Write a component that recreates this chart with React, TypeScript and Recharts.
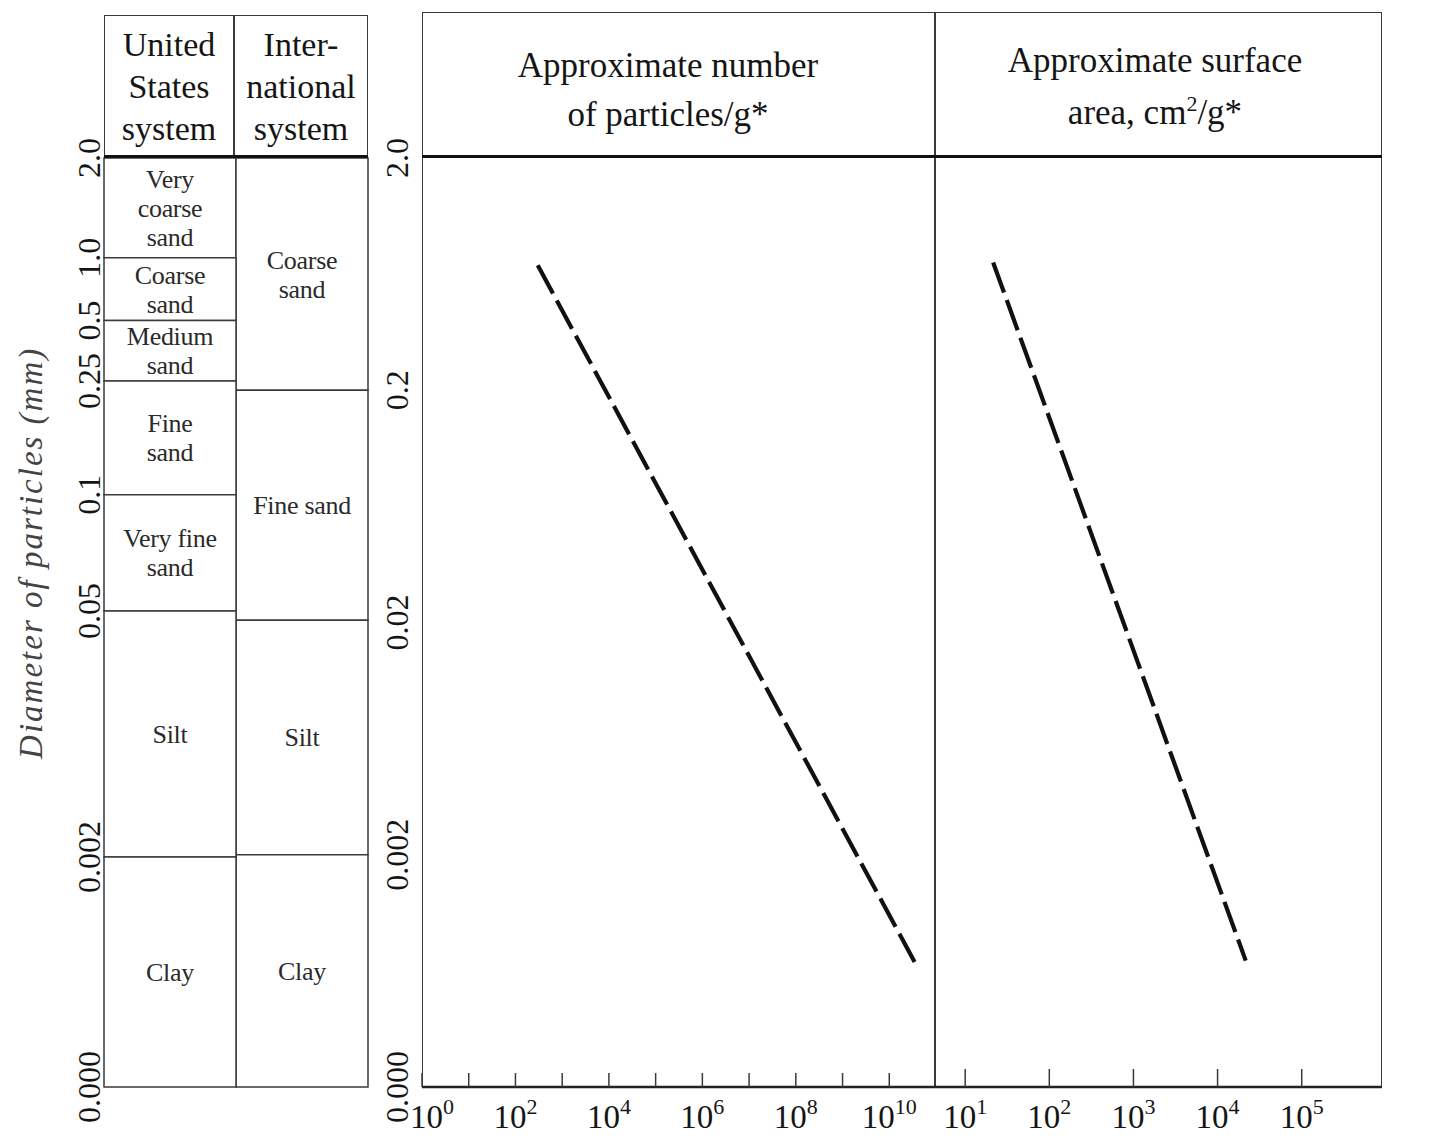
import { BarChart, Bar, LineChart, Line, XAxis, YAxis, LabelList } from "recharts"

const FONT = '"Liberation Serif", "DejaVu Serif", serif'
const INK = "#151515"
const RULE = "#3a3a3a"

// left table: classes of each system, and how far down the schematic scale
// each class reaches (in decades below 2.0 mm, as drawn)
const usClasses = ["Very\ncoarse\nsand", "Coarse\nsand", "Medium\nsand", "Fine\nsand", "Very fine\nsand", "Silt", "Clay"]
const usSpans = [0.43, 0.27, 0.26, 0.49, 0.5, 1.06, 0.99]
const usLimits = ["2.0", "1.0", "0.5", "0.25", "0.1", "0.05", "0.002", "0.000"]

const intClasses = ["Coarse\nsand", "Fine sand", "Silt", "Clay"]
const intSpans = [1.0, 0.99, 1.01, 1.0]

// right panels: particle diameter (mm), log scale
const diamTicks = [2, 0.2, 0.02, 0.002, 0.0002]
const diamLabels = ["2.0", "0.2", "0.02", "0.002", "0.000"]

const countTicks = [1, 1e1, 1e2, 1e3, 1e4, 1e5, 1e6, 1e7, 1e8, 1e9, 1e10]
const areaTicks = [1e1, 1e2, 1e3, 1e4, 1e5]

const countLine = [
  { count: 300, diam: 0.69 },
  { count: 3.5e10, diam: 0.00069 },
]
const areaLine = [
  { area: 21.5, diam: 0.71 },
  { area: 21600, diam: 0.0007 },
]

function buildRow(system: string, spans: number[], names: string[]) {
  const row: Record<string, string | number> = { system }
  spans.forEach((v, i) => {
    row[`b${i}`] = v
    row[`l${i}`] = names[i]
  })
  return row
}

const tableRows = [
  buildRow("United States system", usSpans, usClasses),
  buildRow("International system", intSpans, intClasses),
]

const usEdges = usSpans.reduce<number[]>((acc, v) => [...acc, acc[acc.length - 1] + v], [0])

function BandLabel(props: any) {
  const vb = props.viewBox ?? props
  const { value } = props
  if (!value || vb.width == null) return null
  const lines = String(value).split("\n")
  const cx = vb.x + vb.width / 2
  const cy = vb.y + vb.height / 2
  const lh = 29
  return (
    <text x={cx} y={cy} textAnchor="middle" dominantBaseline="central" fontSize={26} letterSpacing={-0.3} fontFamily={FONT} fill="#2a2a2a">
      {lines.map((t, i) => (
        <tspan key={i} x={cx} dy={i === 0 ? -((lines.length - 1) * lh) / 2 : lh}>
          {t}
        </tspan>
      ))}
    </text>
  )
}

function TableTick(props: any) {
  const { x, y, index } = props
  const bx = x - 4
  return (
    <text x={bx} y={y} transform={`rotate(-90 ${bx} ${y})`} textAnchor="middle" fontSize={32} fontFamily={FONT} fill={INK}>
      {usLimits[index]}
    </text>
  )
}

function AxisTitle(props: any) {
  const vb = props.viewBox ?? { x: 0, y: 158, height: 929 }
  const tx = vb.x + 42
  const ty = vb.y + vb.height * 0.425
  return (
    <text x={tx} y={ty} transform={`rotate(-90 ${tx} ${ty})`} textAnchor="middle" fontSize={33} fontStyle="italic" letterSpacing={2} fontFamily={FONT} fill="#444">
      Diameter of particles (mm)
    </text>
  )
}

function DiamTick(props: any) {
  const { x, y, index } = props
  const bx = x - 14
  return (
    <text x={bx} y={y} transform={`rotate(-90 ${bx} ${y})`} textAnchor="middle" fontSize={32} fontFamily={FONT} fill={INK}>
      {diamLabels[index]}
    </text>
  )
}

function DecadeTick(props: any) {
  const { x, y, payload, step, len, shiftFirst } = props
  const exp = Math.round(Math.log10(payload.value))
  const show = exp % step === 0
  const lx = shiftFirst && exp === 0 ? x + 10 : x
  return (
    <g>
      <line x1={x} y1={y} x2={x} y2={y - len} stroke={RULE} strokeWidth={1.5} />
      {show && (
        <text x={lx} y={y + 41} textAnchor="middle" fontSize={33} fontFamily={FONT} fill={INK}>
          10
          <tspan dy={-14} fontSize={22}>
            {exp}
          </tspan>
        </text>
      )}
    </g>
  )
}

const headCell: React.CSSProperties = {
  position: "absolute",
  textAlign: "center",
  fontFamily: FONT,
  color: INK,
  whiteSpace: "nowrap",
}

export default function App() {
  return (
    <div style={{ position: "absolute", left: 0, top: 0, width: 1437, height: 1139, background: "#fff", overflow: "hidden" }}>
      {/* table header */}
      <div style={{ position: "absolute", left: 104, top: 15, width: 264, height: 143, borderTop: `1.5px solid ${RULE}`, borderLeft: `1.5px solid ${RULE}`, borderRight: `1.5px solid ${RULE}`, boxSizing: "border-box" }} />
      <div style={{ position: "absolute", left: 233, top: 15, width: 1.5, height: 143, background: RULE }} />
      <div style={{ ...headCell, left: 104, top: 24, width: 130, fontSize: 34, lineHeight: "42px" }}>
        United
        <br />
        States
        <br />
        system
      </div>
      <div style={{ ...headCell, left: 234, top: 24, width: 134, fontSize: 34, lineHeight: "42px" }}>
        Inter-
        <br />
        national
        <br />
        system
      </div>

      <div style={{ position: "absolute", left: 0, top: 0 }}>
        <BarChart width={380} height={1139} data={tableRows} margin={{ top: 158, right: 12, bottom: 52, left: 0 }} barCategoryGap={0} barGap={0}>
          <XAxis dataKey="system" hide />
          <YAxis
            type="number"
            domain={[0, 4]}
            reversed
            width={104}
            ticks={usEdges}
            interval={0}
            axisLine={false}
            tickLine={false}
            tickSize={0}
            tickMargin={0}
            tick={<TableTick />}
            label={<AxisTitle />}
          />
          {usSpans.map((_, i) => (
            <Bar key={i} dataKey={`b${i}`} stackId="s" fill="#fff" stroke={RULE} strokeWidth={1.5} isAnimationActive={false}>
              <LabelList dataKey={`l${i}`} content={<BandLabel />} />
            </Bar>
          ))}
        </BarChart>
      </div>
      <div style={{ position: "absolute", left: 104, top: 155, width: 264, height: 3, background: "#111" }} />

      {/* particle panels frame */}
      <div style={{ position: "absolute", left: 422, top: 12, width: 960, height: 1075, border: `1.5px solid ${RULE}`, boxSizing: "border-box" }} />
      <div style={{ position: "absolute", left: 934, top: 12, width: 1.5, height: 1075, background: RULE }} />
      <div style={{ position: "absolute", left: 422, top: 155, width: 960, height: 3, background: "#111" }} />
      <div style={{ ...headCell, left: 412, top: 41, width: 512, fontSize: 35, lineHeight: "49px" }}>
        Approximate number
        <br />
        of particles/g*
      </div>
      <div style={{ ...headCell, left: 935, top: 35, width: 440, fontSize: 35, lineHeight: "52px" }}>
        Approximate surface
        <br />
        area, cm<sup style={{ fontSize: 22, lineHeight: 0 }}>2</sup>/g*
      </div>

      <div style={{ position: "absolute", left: 370, top: 0 }}>
        <LineChart width={566} height={1139} margin={{ top: 158, right: 0, bottom: 0, left: 0 }}>
          <XAxis
            dataKey="count"
            type="number"
            scale="log"
            domain={[1, 1e11]}
            ticks={countTicks}
            interval={0}
            allowDataOverflow
            height={52}
            axisLine={{ stroke: "#222", strokeWidth: 2.5 }}
            tickLine={false}
            tickSize={0}
            tickMargin={0}
            tick={(p: any) => <DecadeTick {...p} step={2} len={14} shiftFirst />}
          />
          <YAxis
            type="number"
            scale="log"
            domain={[0.0002, 2]}
            ticks={diamTicks}
            interval={0}
            allowDataOverflow
            width={52}
            axisLine={false}
            tickLine={false}
            tickSize={0}
            tickMargin={0}
            tick={<DiamTick />}
          />
          <Line data={countLine} dataKey="diam" stroke="#111" strokeWidth={4.2} strokeDasharray="32 8" dot={false} isAnimationActive={false} />
        </LineChart>
      </div>

      <div style={{ position: "absolute", left: 936, top: 0 }}>
        <LineChart width={446} height={1139} margin={{ top: 158, right: 0, bottom: 0, left: 0 }}>
          <XAxis
            dataKey="area"
            type="number"
            scale="log"
            domain={[4.5, 900000]}
            ticks={areaTicks}
            interval={0}
            allowDataOverflow
            height={52}
            axisLine={{ stroke: "#222", strokeWidth: 2.5 }}
            tickLine={false}
            tickSize={0}
            tickMargin={0}
            tick={(p: any) => <DecadeTick {...p} step={1} len={18} />}
          />
          <YAxis type="number" scale="log" domain={[0.0002, 2]} allowDataOverflow hide />
          <Line data={areaLine} dataKey="diam" stroke="#111" strokeWidth={4.2} strokeDasharray="32 8" dot={false} isAnimationActive={false} />
        </LineChart>
      </div>
    </div>
  )
}
